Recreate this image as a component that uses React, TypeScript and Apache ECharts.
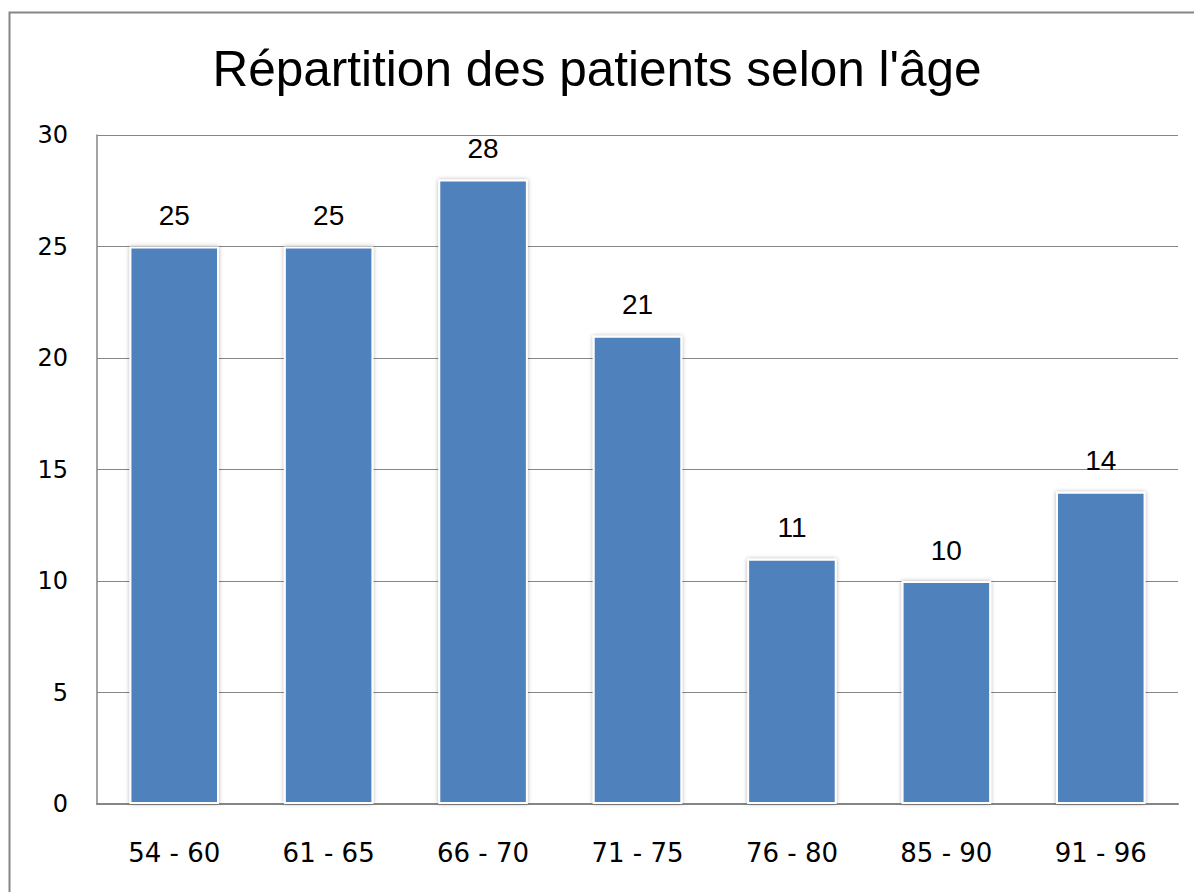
import React, { useEffect, useRef } from "react";
import * as echarts from "echarts";

const titleText = "Répartition des patients selon l'âge";
const categories = ["54 - 60", "61 - 65", "66 - 70", "71 - 75", "76 - 80", "85 - 90", "91 - 96"];
const values = [25, 25, 28, 21, 11, 10, 14];
const yMin = 0;
const yMax = 30;
const yInterval = 5;

export default function App() {
  const ref = useRef<HTMLDivElement>(null);
  useEffect(() => {
    document.body.style.margin = "0";
    const chart = echarts.init(ref.current!, null, { renderer: "svg" });
    chart.setOption({
      animation: false,
      backgroundColor: "#ffffff",
      title: {
        text: titleText,
        left: "center",
        top: 38,
        textStyle: { fontFamily: "Liberation Sans", fontSize: 49.5, fontWeight: "normal", color: "#000" },
      },
      graphic: [
        {
          type: "rect",
          shape: { x: 9.5, y: 12.5, width: 1400, height: 1100 },
          style: { fill: "none", stroke: "#868686", lineWidth: 2 },
          silent: true,
        },
      ],
      grid: { left: 97, top: 135, right: 16, bottom: 88 },
      xAxis: {
        type: "category",
        data: categories,
        axisLine: { show: true, lineStyle: { color: "#868686", width: 2 } },
        axisTick: { show: false },
        axisLabel: { fontFamily: "DejaVu Sans", fontSize: 26, color: "#000", margin: 36 },
      },
      yAxis: {
        type: "value",
        min: yMin,
        max: yMax,
        interval: yInterval,
        axisLine: { show: true, lineStyle: { color: "#868686", width: 1.5 } },
        axisTick: { show: false },
        splitLine: { show: true, lineStyle: { color: "#868686", width: 1.2 } },
        axisLabel: { fontFamily: "DejaVu Sans", fontSize: 24, color: "#000", margin: 29 },
      },
      series: [
        {
          type: "bar",
          data: values,
          barCategoryGap: "42%",
          itemStyle: {
            color: "#4F81BD",
            borderColor: "#ffffff",
            borderWidth: 2,
            shadowColor: "rgba(0,0,0,0.3)",
            shadowBlur: 4,
          },
          label: {
            show: true,
            position: "top",
            distance: 17,
            fontFamily: "Liberation Sans",
            fontSize: 28,
            color: "#000",
          },
        },
      ],
    });
    return () => chart.dispose();
  }, []);
  return <div ref={ref} style={{ width: 1194, height: 892 }} />;
}
